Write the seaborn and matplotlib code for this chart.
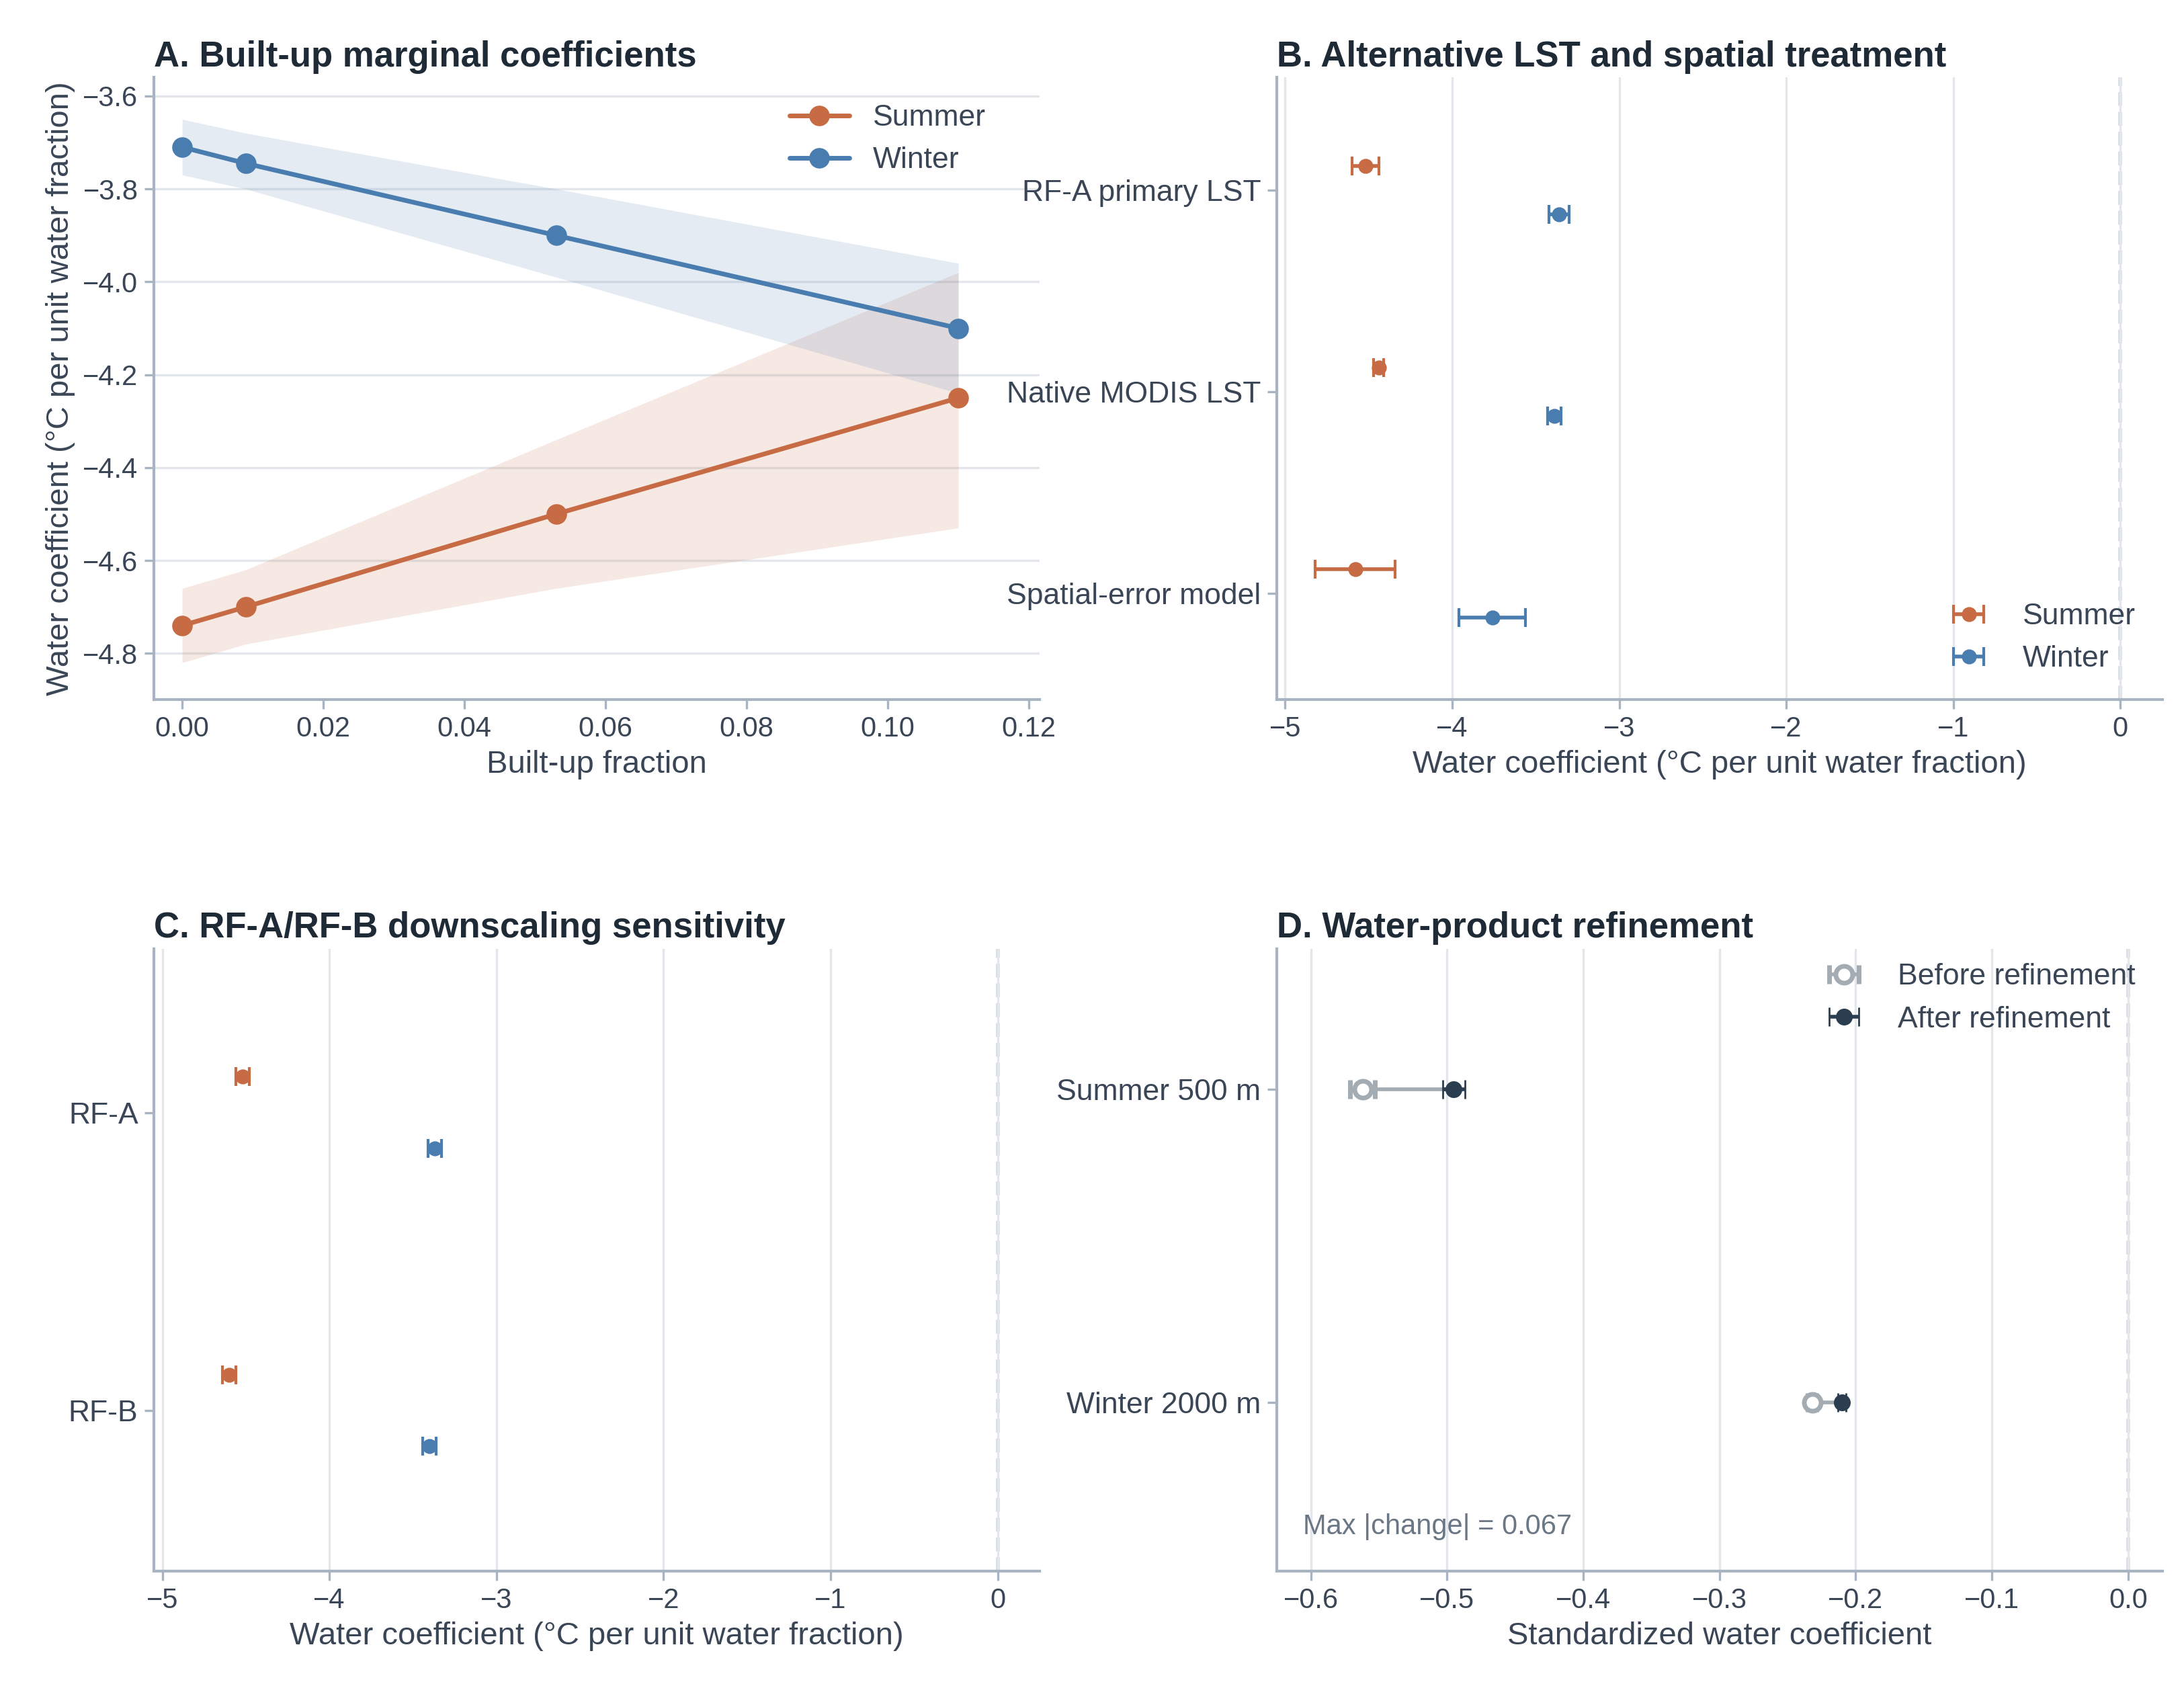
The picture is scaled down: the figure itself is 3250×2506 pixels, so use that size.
import numpy as np
import pandas as pd
import seaborn as sns
import matplotlib.pyplot as plt

# Panel A data
builtup = [0.0, 0.009, 0.053, 0.11]
summer_a = [-4.74, -4.70, -4.50, -4.25]
summer_a_lo = [-4.82, -4.78, -4.66, -4.53]
summer_a_hi = [-4.66, -4.62, -4.34, -3.98]
winter_a = [-3.71, -3.745, -3.90, -4.10]
winter_a_lo = [-3.77, -3.80, -3.99, -4.24]
winter_a_hi = [-3.65, -3.68, -3.80, -3.96]

# Panel B data
models_b = ['RF-A primary LST', 'Native MODIS LST', 'Spatial-error model']
summer_b = [-4.52, -4.44, -4.58]
summer_b_err = [0.08, 0.03, 0.24]
winter_b = [-3.36, -3.39, -3.76]
winter_b_err = [0.06, 0.04, 0.20]

# Panel C data
models_c = ['RF-A', 'RF-B']
summer_c = [-4.52, -4.60]
summer_c_err = [0.04, 0.04]
winter_c = [-3.37, -3.40]
winter_c_err = [0.04, 0.04]

# Panel D data
products_d = ['Summer 500 m', 'Winter 2000 m']
before_d = [-0.562, -0.232]
before_d_err = [0.009, 0.003]
after_d = [-0.495, -0.210]
after_d_err = [0.008, 0.003]

SUMMER = '#C66B43'
WINTER = '#4A7DAF'
DARK = '#2B3E50'
GRAY = '#A3ABB3'
SPINE = '#A9B4C2'
TEXT = '#3A4656'

sns.set_theme(style='white')
plt.rcParams['font.family'] = ['Liberation Sans', 'DejaVu Sans']
plt.rcParams['text.color'] = TEXT
plt.rcParams['axes.labelcolor'] = TEXT
plt.rcParams['xtick.color'] = TEXT
plt.rcParams['ytick.color'] = TEXT

fig, axes = plt.subplots(2, 2, figsize=(16.25, 12.53), dpi=200)
axA, axB, axC, axD = axes.flat


def style(ax, grid_axis):
    sns.despine(ax=ax)
    for s in ['left', 'bottom']:
        ax.spines[s].set_color(SPINE)
        ax.spines[s].set_linewidth(1.5)
    ax.grid(axis=grid_axis, color='#E3E7EC', linewidth=1.2)
    ax.set_axisbelow(True)
    ax.tick_params(axis='both', labelsize=15, length=5, color=SPINE, width=1.2,
                   bottom=True, left=True)


# A
dfA = pd.DataFrame({'x': builtup * 2, 'y': summer_a + winter_a,
                    'season': ['Summer'] * 4 + ['Winter'] * 4})
axA.fill_between(builtup, summer_a_lo, summer_a_hi, color=SUMMER, alpha=0.15, lw=0)
axA.fill_between(builtup, winter_a_lo, winter_a_hi, color=WINTER, alpha=0.15, lw=0)
sns.lineplot(data=dfA, x='x', y='y', hue='season', palette=[SUMMER, WINTER],
             marker='o', markersize=11, markeredgewidth=0, linewidth=2.5, ax=axA)
axA.set_xlim(-0.004, 0.1215)
axA.set_ylim(-4.9, -3.56)
axA.set_yticks(np.arange(-4.8, -3.55, 0.2))
axA.set_xticks(np.arange(0, 0.121, 0.02))
axA.set_xticklabels([f'{v:.2f}' for v in np.arange(0, 0.121, 0.02)])
axA.set_yticklabels([f'\u2212{abs(v):.1f}' for v in np.arange(-4.8, -3.55, 0.2)])
axA.set_xlabel('Built-up fraction', fontsize=17)
axA.set_ylabel('Water coefficient (°C per unit water fraction)', fontsize=17)
axA.legend(title=None, frameon=False, fontsize=16, loc='upper right',
           bbox_to_anchor=(0.97, 1.0))
style(axA, 'y')
axA.set_title('A. Built-up marginal coefficients', loc='left', fontsize=19,
              fontweight='bold', color='#1E2A36')


def dot_panel(ax, labels, s, se, w, we, off, legend):
    pos = np.arange(len(labels))
    ax.errorbar(s, pos - off, xerr=se, fmt='o', color=SUMMER, ms=7, capsize=5,
                elinewidth=2, capthick=1.5, label='Summer')
    ax.errorbar(w, pos + off, xerr=we, fmt='o', color=WINTER, ms=7, capsize=5,
                elinewidth=2, capthick=1.5, label='Winter')
    ax.set_yticks(pos)
    ax.set_yticklabels(labels)
    ax.set_xlim(-5.05, 0.25)
    ax.set_xticks(range(-5, 1))
    ax.set_xticklabels(['\u22125', '\u22124', '\u22123', '\u22122', '\u22121', '0'])
    ax.axvline(0, color='#D5DAE0', ls='--', lw=2, zorder=0)
    ax.set_xlabel('Water coefficient (°C per unit water fraction)', fontsize=17)
    style(ax, 'x')
    ax.tick_params(axis='y', labelsize=16)
    if legend:
        ax.legend(frameon=False, fontsize=16, loc='lower right',
                  bbox_to_anchor=(1.0, 0.0))


dot_panel(axB, models_b, summer_b, summer_b_err, winter_b, winter_b_err, 0.12, True)
axB.set_ylim(2.53, -0.56)
axB.set_title('B. Alternative LST and spatial treatment', loc='left', fontsize=19,
              fontweight='bold', color='#1E2A36')

dot_panel(axC, models_c, summer_c, summer_c_err, winter_c, winter_c_err, 0.12, False)
axC.set_ylim(1.54, -0.55)
axC.set_title('C. RF-A/RF-B downscaling sensitivity', loc='left', fontsize=19,
              fontweight='bold', color='#1E2A36')

# D
posD = np.arange(len(products_d))
for i in posD:
    axD.plot([before_d[i], after_d[i]], [i, i], color=GRAY, lw=2, zorder=1)
axD.errorbar(before_d, posD, xerr=before_d_err, fmt='o', mfc='white', mec=GRAY,
             mew=2.5, color=GRAY, ms=9, capsize=5, elinewidth=2,
             label='Before refinement', zorder=2)
axD.errorbar(after_d, posD, xerr=after_d_err, fmt='o', color=DARK, ms=8, capsize=5,
             elinewidth=2, label='After refinement', zorder=3)
axD.set_yticks(posD)
axD.set_yticklabels(products_d)
axD.set_ylim(1.54, -0.45)
axD.set_xlim(-0.625, 0.025)
xt = np.arange(-0.6, 0.01, 0.1)
axD.set_xticks(xt)
axD.set_xticklabels([('\u2212' if v < -1e-9 else '') + f'{abs(v):.1f}' for v in xt])
axD.axvline(0, color='#D5DAE0', ls='--', lw=2, zorder=0)
axD.set_xlabel('Standardized water coefficient', fontsize=17)
style(axD, 'x')
axD.tick_params(axis='y', labelsize=16)
axD.legend(frameon=False, fontsize=16, loc='upper right', bbox_to_anchor=(1.0, 1.02))
axD.text(0.03, 0.06, 'Max |change| = 0.067', transform=axD.transAxes,
         fontsize=15, color='#6B7785')
axD.set_title('D. Water-product refinement', loc='left', fontsize=19,
              fontweight='bold', color='#1E2A36')

fig.subplots_adjust(left=0.0705, right=0.99, bottom=0.067, top=0.954,
                    wspace=0.268, hspace=0.4)
fig.savefig('out.png', dpi=200, facecolor='white')
